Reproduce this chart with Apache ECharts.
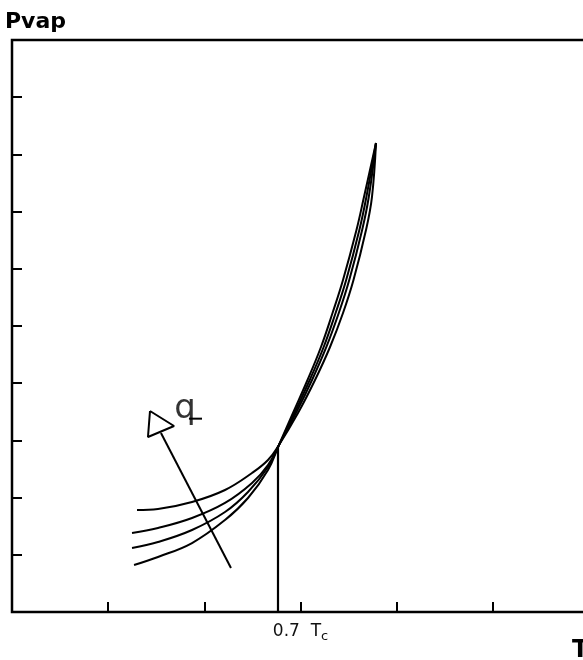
<!DOCTYPE html>
<html><head><meta charset="utf-8">
<script src="https://cdn.jsdelivr.net/npm/echarts@6/dist/echarts.min.js"></script>
<style>html,body{margin:0;padding:0;background:#fff;} #c{width:583px;height:660px;}</style>
</head><body><div id="c"></div>
<script>
// Tick labels of the temperature axis (one per unit tick)
const xTickLabels = ['', '', '', '0.7 Tc', '', '', ''];
const xAxisName = 'T';
const yAxisName = 'Pvap';

// Four vapour-pressure curves (T, Pvap) in axis units
const curve1T = [1.300, 1.518, 1.872, 2.215, 2.496, 2.662, 2.776, 2.974, 3.151, 3.307, 3.442, 3.551, 3.681, 3.743, 3.785];
const curve1P = [1.783, 1.801, 1.923, 2.133, 2.430, 2.657, 2.920, 3.479, 4.056, 4.633, 5.227, 5.804, 6.678, 7.255, 8.199];
const curve2T = [1.248, 1.518, 1.872, 2.215, 2.496, 2.662, 2.776, 2.953, 3.120, 3.269, 3.398, 3.507, 3.641, 3.710, 3.785];
const curve2P = [1.381, 1.469, 1.643, 1.906, 2.255, 2.570, 2.920, 3.479, 4.056, 4.633, 5.227, 5.804, 6.678, 7.255, 8.199];
const curve3T = [1.248, 1.518, 1.872, 2.215, 2.454, 2.662, 2.776, 2.937, 3.096, 3.241, 3.365, 3.475, 3.612, 3.685, 3.785];
const curve3P = [1.119, 1.224, 1.434, 1.748, 2.098, 2.535, 2.920, 3.479, 4.056, 4.633, 5.227, 5.804, 6.678, 7.255, 8.199];
const curve4T = [1.269, 1.518, 1.872, 2.215, 2.454, 2.662, 2.776, 2.922, 3.073, 3.213, 3.333, 3.442, 3.582, 3.660, 3.785];
const curve4P = [0.822, 0.962, 1.206, 1.608, 1.993, 2.483, 2.920, 3.479, 4.056, 4.633, 5.227, 5.804, 6.678, 7.255, 8.199];

// Vertical marker at 0.7 Tc
const markerT = [2.766, 2.766];
const markerP = [0, 2.885];

// Arrow (shaft + hollow head) and its parameter symbol
const arrowShaftT = [2.277, 1.549];
const arrowShaftP = [0.769, 3.129];
const arrowHeadT = [1.435, 1.685, 1.414, 1.435];
const arrowHeadP = [3.514, 3.252, 3.059, 3.514];
const symbolText = 'q';
const symbolT = [1.800];
const symbolP = [3.540];
const symbolBarT = [1.840, 1.976];
const symbolBarP = [3.380, 3.380];

const zip = (a, b) => a.map((v, i) => [v, b[i]]);
const black = '#000';

function lineSeries(T, P, w, smooth) {
  return {
    type: 'line', data: zip(T, P), showSymbol: false, smooth: smooth || false,
    lineStyle: { color: black, width: w }, silent: true, z: 3
  };
}

const chart = echarts.init(document.getElementById('c'), null, { renderer: 'canvas' });
chart.setOption({
  animation: false,
  backgroundColor: '#fff',
  grid: { left: 12, top: 40, width: 577, height: 572, outerBoundsMode: 'none', containLabel: false,
          show: true, borderColor: black, borderWidth: 2.5, backgroundColor: 'transparent' },
  xAxis: {
    type: 'value', min: 0, max: 6, interval: 1,
    axisLine: { show: false },
    axisTick: { show: true, inside: true, length: 10, lineStyle: { color: black, width: 2 } },
    splitLine: { show: false },
    axisLabel: {
      show: true, margin: 9, color: '#111',
      formatter: function (v) {
        const s = xTickLabels[Math.round(v)] || '';
        if (!s) return '';
        return '{a|' + s.slice(0, -2) + ' ' + s.slice(-2, -1) + '}{b|' + s.slice(-1) + '}';
      },
      rich: {
        a: { fontFamily: 'DejaVu Sans', fontSize: 17, color: '#111' },
        b: { fontFamily: 'DejaVu Sans', fontSize: 13, color: '#111', padding: [9, 0, 0, 0] }
      }
    },
    name: xAxisName, nameLocation: 'end', nameGap: -17,
    nameTextStyle: { fontFamily: 'DejaVu Sans', fontWeight: 'bold', fontSize: 24, color: black, align: 'left', verticalAlign: 'top', padding: [27, 0, 0, 0] }
  },
  yAxis: {
    type: 'value', min: 0, max: 10, interval: 1,
    axisLine: { show: false },
    axisTick: { show: true, inside: true, length: 10, lineStyle: { color: black, width: 2 } },
    splitLine: { show: false },
    axisLabel: { show: false },
    name: yAxisName, nameLocation: 'end', nameGap: 7,
    nameTextStyle: { fontFamily: 'DejaVu Sans', fontWeight: 'bold', fontSize: 22, color: black, align: 'center', verticalAlign: 'bottom', padding: [0, 0, 0, 47] }
  },
  series: [
    lineSeries(curve1T, curve1P, 2, 0.4),
    lineSeries(curve2T, curve2P, 2, 0.4),
    lineSeries(curve3T, curve3P, 2, 0.4),
    lineSeries(curve4T, curve4P, 2, 0.4),
    lineSeries(markerT, markerP, 2.2),
    lineSeries(arrowShaftT, arrowShaftP, 2),
    lineSeries(arrowHeadT, arrowHeadP, 2),
    lineSeries(symbolBarT, symbolBarP, 2),
    {
      type: 'scatter', data: zip(symbolT, symbolP), symbolSize: 1, itemStyle: { color: 'transparent' }, silent: true,
      label: { show: true, position: 'inside', formatter: symbolText, fontFamily: 'DejaVu Sans', fontSize: 34, color: black }
    }
  ]
});
</script>
</body></html>
